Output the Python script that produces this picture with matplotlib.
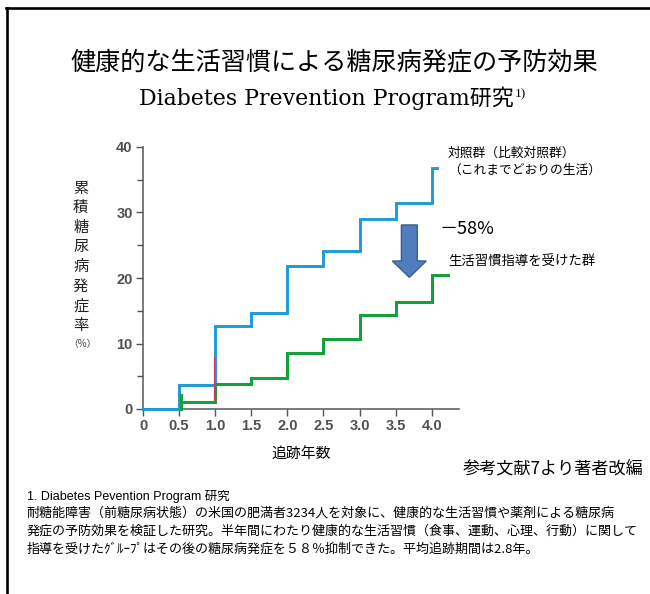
import matplotlib
matplotlib.use("Agg")
import matplotlib.pyplot as plt
from matplotlib.patches import FancyArrow
from matplotlib.lines import Line2D

plt.rcParams['font.family'] = ['Noto Sans CJK JP', 'DejaVu Sans']

# ---- data ----
control_x = [0, 0.5, 1.0, 1.5, 2.0, 2.5, 3.0, 3.5, 4.0, 4.08]
control_y = [0, 3.7, 12.6, 14.6, 21.8, 24.1, 29.0, 31.4, 36.8, 36.8]
lifestyle_x = [0.52, 1.0, 1.5, 2.0, 2.5, 3.0, 3.5, 4.0, 4.22]
lifestyle_y = [1.0, 3.85, 4.7, 8.5, 10.7, 14.4, 16.4, 20.4, 20.4]
lifestyle_spike_x = [0.52, 0.52]
lifestyle_spike_y = [0, 2.2]
red_mark_x = [0.985, 0.985]
red_mark_y = [1.4, 8.0]
x_ticks = [0, 0.5, 1.0, 1.5, 2.0, 2.5, 3.0, 3.5, 4.0]
x_tick_labels = ['0', '0.5', '1.0', '1.5', '2.0', '2.5', '3.0', '3.5', '4.0']
y_ticks = [0, 10, 20, 30, 40]
y_minor_ticks = [5, 15, 25, 35]

title1 = '健康的な生活習慣による糖尿病発症の予防効果'
title2 = 'Diabetes Prevention Program研究'
title2_sup = '1)'
ylabel_chars = '累積糖尿病発症率'
ylabel_unit = '（%）'
xlabel = '追跡年数'
label_control = ['対照群（比較対照群）', '（これまでどおりの生活）']
label_reduction = '－58%'
label_lifestyle = '生活習慣指導を受けた群'
source_note = '参考文献7より著者改編'
footnote_head = '1. Diabetes Pevention Program 研究'
footnote_lines = [
    '耐糖能障害（前糖尿病状態）の米国の肥満者3234人を対象に、健康的な生活習慣や薬剤による糖尿病',
    '発症の予防効果を検証した研究。半年間にわたり健康的な生活習慣（食事、運動、心理、行動）に関して',
    '指導を受けたｸﾞﾙｰﾌﾟはその後の糖尿病発症を５８％抑制できた。平均追跡期間は2.8年。',
]

W, H = 650, 594
fig = plt.figure(figsize=(W / 100, H / 100), dpi=100)
fig.patch.set_facecolor('white')

def fx(px):
    return px / W

def fy(py):
    return 1 - py / H

# axes: x=0 at px 143, x=4.0 at px 431.7; y=0 at py 409, y=40 at py 147
x_per = (431.7 - 143) / 4.0
xmax = 4.38
ax = fig.add_axes([fx(143), fy(409), (xmax * x_per) / W, (409 - 147) / H])
ax.set_xlim(0, xmax)
ax.set_ylim(0, 40)
ax.patch.set_alpha(0)
for s in ['top', 'right']:
    ax.spines[s].set_visible(False)
for s in ['left', 'bottom']:
    ax.spines[s].set_color('#555555')
    ax.spines[s].set_linewidth(1.1)
ax.spines['left'].set_zorder(1)
ax.spines['bottom'].set_zorder(1)

ax.plot(control_x, control_y, drawstyle='steps-post', color='#1e9ad6',
        lw=2.1, solid_joinstyle='miter', zorder=3, clip_on=False)
ax.plot(lifestyle_x, lifestyle_y, drawstyle='steps-post', color='#16a03c',
        lw=2.2, solid_joinstyle='miter', zorder=3, clip_on=False)
ax.plot(lifestyle_spike_x, lifestyle_spike_y, color='#16a03c', lw=2.2,
        zorder=3, clip_on=False)
ax.plot(red_mark_x, red_mark_y, color='#d8306a', lw=0.9, zorder=4)

ax.set_xticks(x_ticks)
ax.set_xticklabels(x_tick_labels)
ax.set_yticks(y_ticks)
ax.set_yticks(y_minor_ticks, minor=True)
ax.tick_params(axis='both', which='major', direction='out', length=5,
               width=1.0, color='#555555', pad=2.5)
ax.tick_params(axis='y', which='minor', direction='out', length=4,
               width=1.0, color='#555555')
for lab in ax.get_xticklabels() + ax.get_yticklabels():
    lab.set_family('Liberation Sans')
    lab.set_fontweight('bold')
    lab.set_fontsize(10.5)
    lab.set_color('#505050')

# arrow (-58%)
arr = FancyArrow(3.69, 28.1, 0, -8.0, width=0.22, head_width=0.47,
                 head_length=2.5, length_includes_head=True,
                 facecolor='#4f7dbd', edgecolor='#3a5f90', lw=1.0, zorder=5)
ax.add_patch(arr)

# border lines
fig.add_artist(Line2D([fx(6), 1.0], [fy(8), fy(8)], color='black', lw=1.9,
                      transform=fig.transFigure))
fig.add_artist(Line2D([fx(7), fx(7)], [0, fy(8)], color='black', lw=1.9,
                      transform=fig.transFigure))

# titles
fig.text(fx(334), fy(63.5), title1, ha='center', va='center', fontsize=18.1,
         color='black')
t2 = fig.text(fx(139), fy(105), title2, ha='left', va='baseline',
              fontsize=15.8, family=['DejaVu Serif', 'Noto Sans CJK JP'],
              color='black')
fig.canvas.draw()
bb = t2.get_window_extent(fig.canvas.get_renderer())
fig.text(bb.x1 / W + 0.002, fy(97), title2_sup, ha='left', va='baseline',
         fontsize=9.5, family=['Liberation Serif'], color='black')

# y label: vertical characters
for i, ch in enumerate(ylabel_chars):
    fig.text(fx(80.7), fy(188 + i * 19.6), ch, ha='center', va='center',
             fontsize=11, color='#222222')
fig.text(fx(82), fy(344), ylabel_unit, ha='center', va='center', fontsize=7,
         color='#444444')

# x label
fig.text(fx(301), fy(455), xlabel, ha='center', va='center', fontsize=10.7,
         color='black')

# series annotations
fig.text(fx(448), fy(153), label_control[0], ha='left', va='center',
         fontsize=9.2, color='black')
fig.text(fx(448), fy(170), label_control[1], ha='left', va='center',
         fontsize=9.2, color='black')
fig.text(fx(440), fy(229), label_reduction, ha='left', va='center',
         fontsize=13, color='black')
fig.text(fx(448), fy(261), label_lifestyle, ha='left', va='center',
         fontsize=9.6, color='black')

# source
fig.text(fx(643), fy(468), source_note, ha='right', va='center',
         fontsize=12.3, color='black')

# footnote
fig.text(fx(26.7), fy(496.7), footnote_head, ha='left', va='center',
         fontsize=9, family=['Liberation Sans', 'Noto Sans CJK JP'],
         color='black')
for i, line in enumerate(footnote_lines):
    fig.text(fx(26.7), fy(513.5 + i * 17.9), line, ha='left', va='center',
             fontsize=9.4, color='black')

fig.savefig('out.png', dpi=100, facecolor='white')
